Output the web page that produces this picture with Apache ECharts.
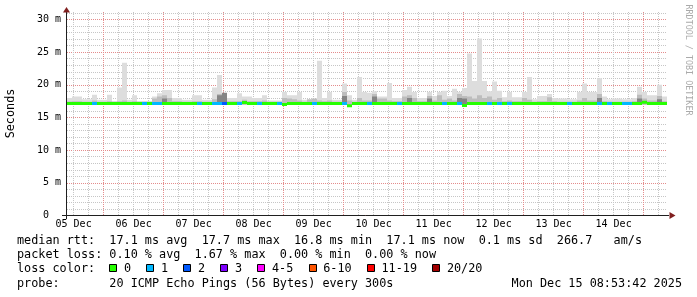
<!DOCTYPE html>
<html><head><meta charset="utf-8">
<script src="https://cdn.jsdelivr.net/npm/echarts@6/dist/echarts.min.js"></script>
<style>html,body{margin:0;padding:0;background:#fff}#c{width:697px;height:297px}</style>
</head><body><div id="c"></div>
<script>
// ---- data (hours counted from 05 Dec 00:00) ----
const startHour = 9.36;          // left edge of the plot
const spanHours = 240;           // 10 days shown
const stepHours = 2;             // width of one sample column
const smokeBase = 16.95;

const dayLabels = ['05 Dec','06 Dec','07 Dec','08 Dec','09 Dec','10 Dec','11 Dec','12 Dec','13 Dec','14 Dec'];
const dayLabelHours = [12,36,60,84,108,132,156,180,204,228];
const midnightHours = [24,48,72,96,120,144,168,192,216,240];
const sixHourTicks = [12,18,30,36,42,54,60,66,78,84,90,102,108,114,126,132,138,150,156,162,174,180,186,198,204,210,222,228,234,246];
const yMajorTicks = [0,5,10,15,20,25,30];
const yTickLabels = ['0  ','5 m','10 m','15 m','20 m','25 m','30 m'];
const yMinorTicks = [1,2,3,4,6,7,8,9,11,12,13,14,16,17,18,19,21,22,23,24,26,27,28,29,31];
const yMax = 31.15;

const smokeTop = [18.0,18.2,18.2,17.8,17.8,18.5,17.7,17.7,18.5,17.5,
 19.6,23.4,17.7,18.4,17.5,17.5,17.5,18.2,18.7,19.2,
 19.2,18.0,18.0,17.7,17.7,18.4,18.4,17.7,17.7,19.6,
 21.5,18.0,18.0,18.0,18.7,18.2,18.2,18.0,18.0,18.4,
 17.6,17.6,17.6,18.9,18.4,18.4,18.9,17.7,17.7,17.7,
 23.7,18.0,18.9,17.7,17.7,20.2,18.4,17.7,21.2,18.9,
 18.8,19.0,18.2,18.2,20.3,18.0,18.0,19.2,19.7,18.9,
 18.0,18.0,18.9,18.3,18.9,19.1,18.3,19.4,18.9,19.5,
 24.8,20.6,27.1,20.6,19.0,20.5,19.1,18.1,18.9,18.1,
 18.1,18.9,21.2,17.8,18.3,18.3,18.6,18.0,17.9,17.9,
 17.8,17.8,18.9,20.2,18.9,18.9,21.0,18.2,17.8,17.9,
 17.9,17.8,17.8,18.0,19.7,18.9,18.4,18.4,20.0,18.2];

const smokeMid = [17.45,17.5,17.5,17.4,17.4,17.6,17.4,17.4,17.5,17.4,
 17.5,17.6,17.4,17.5,17.4,17.4,17.4,17.9,18.2,18.4,
 18.0,17.5,17.5,17.4,17.4,17.5,17.5,17.4,17.4,17.8,
 18.6,18.0,17.5,17.5,17.5,17.7,17.5,17.5,17.5,17.6,
 17.4,17.4,17.4,18.0,17.9,17.8,17.6,17.4,17.8,17.9,
 17.6,17.5,17.6,17.4,17.4,18.9,17.6,17.4,18.0,17.6,
 17.6,18.6,17.9,17.9,17.6,17.5,17.5,18.2,18.4,18.0,
 17.5,17.5,18.3,17.6,18.4,17.7,17.9,17.6,18.6,18.3,
 18.2,17.9,18.4,18.0,18.2,17.7,18.0,17.5,17.6,17.5,
 17.5,18.0,17.7,17.4,17.5,17.5,18.1,17.5,17.4,17.4,
 17.4,17.4,17.6,18.0,17.6,17.6,18.6,17.5,17.4,17.4,
 17.4,17.4,17.4,17.5,18.5,17.9,17.6,17.6,18.3,17.5];

const smokeDark = [null,null,null,null,null,null,null,null,null,null,
 null,null,null,null,null,null,null,null,null,17.9,
 null,null,null,null,null,null,null,null,null,null,
 18.4,18.8,null,null,null,null,null,null,null,null,
 null,null,null,null,null,null,null,null,null,null,
 null,null,null,null,null,18.3,null,null,null,null,
 null,18.2,null,null,null,null,null,null,18.0,null,
 null,null,17.9,null,null,null,null,null,18.0,17.9,
 null,null,null,null,null,null,null,null,null,null,
 null,null,null,null,null,null,null,null,null,null,
 null,null,null,null,null,null,18.0,null,null,null,
 null,null,null,null,17.9,null,null,null,17.8,null];

const medianRtt = [17.15,17.15,17.15,17.15,17.15,17.15,17.15,17.15,17.15,17.15,
 17.15,17.15,17.15,17.15,17.15,17.15,17.15,17.15,17.15,17.15,
 17.15,17.15,17.15,17.15,17.15,17.15,17.15,17.15,17.15,17.15,
 17.15,17.15,17.15,17.15,17.15,17.3,17.15,17.15,17.15,17.15,
 17.15,17.15,17.15,17.0,17.15,17.15,17.15,17.15,17.15,17.15,
 17.15,17.15,17.15,17.15,17.15,17.15,16.8,17.15,17.15,17.15,
 17.15,17.15,17.15,17.15,17.15,17.15,17.15,17.15,17.15,17.15,
 17.15,17.15,17.15,17.15,17.15,17.15,17.15,17.15,17.15,16.85,
 17.15,17.15,17.15,17.15,17.15,17.15,17.15,17.15,17.15,17.15,
 17.15,17.15,17.15,17.15,17.15,17.15,17.15,17.15,17.15,17.15,
 17.15,17.15,17.15,17.15,17.15,17.15,17.15,17.15,17.15,17.15,
 17.15,17.15,17.15,17.15,17.15,17.35,17.15,17.15,17.15,17.15];

const lossCount = [0,0,0,0,0,1,0,0,0,0,
 0,0,0,0,0,1,0,1,1,0,
 0,0,0,0,0,0,1,0,0,1,
 1,2,0,0,1,0,0,0,1,0,
 0,0,1,0,0,0,0,0,0,1,
 0,0,0,0,0,1,0,0,0,0,
 1,0,0,0,0,0,1,0,0,0,
 0,0,0,0,0,1,0,0,1,0,
 0,0,0,0,1,0,1,0,1,0,
 0,0,0,0,0,0,0,0,0,0,
 1,0,0,0,0,0,1,0,1,0,
 0,1,1,0,0,0,0,0,0,0];

const lossLabels = ['0','1','2','3','4-5','6-10','11-19','20/20'];
const lossColors = ['#26ff00','#00b8ff','#0059ff','#7e00ff','#ff00ff','#ff5500','#ff0000','#a10000'];
const statsLine1 = 'median rtt:  17.1 ms avg  17.7 ms max  16.8 ms min  17.1 ms now  0.1 ms sd  266.7   am/s';
const statsLine2 = 'packet loss: 0.10 % avg  1.67 % max  0.00 % min  0.00 % now';
const probeLine = 'probe:       20 ICMP Echo Pings (56 Bytes) every 300s';
const stampText = 'Mon Dec 15 08:53:42 2025';

// ---- build ----
function lossBucket(n){ if(n<=3) return n; if(n<=5) return 4; if(n<=10) return 5; if(n<=19) return 6; return 7; }
const colTime = smokeTop.map((_,i)=>startHour + i*stepHours);

const MONO = 'DejaVu Sans Mono';
const chart = echarts.init(document.getElementById('c'), null, {renderer:'canvas'});

function rectItem(color){
  return function(params, api){
    const t = api.value(0), top = api.value(1), base = api.value(2);
    if (top == null || isNaN(top)) return null;
    const p1 = api.coord([t, top]);
    const p2 = api.coord([t + stepHours, base]);
    return {type:'rect', shape:{x:p1[0], y:p1[1], width:p2[0]-p1[0], height:p2[1]-p1[1]}, style:{fill:color}};
  };
}

const graphics = [];
// axis lines & arrows
graphics.push({type:'line', shape:{x1:62, y1:215.5, x2:669, y2:215.5}, style:{stroke:'#1f1f1f', lineWidth:1}, z:100});
graphics.push({type:'line', shape:{x1:66.5, y1:219, x2:66.5, y2:12}, style:{stroke:'#1f1f1f', lineWidth:1}, z:100});
graphics.push({type:'polygon', shape:{points:[[66.5,7],[63,12.5],[70,12.5]]}, style:{fill:'#801f1f'}, z:101});
graphics.push({type:'polygon', shape:{points:[[675.5,215.5],[669.5,212],[669.5,219]]}, style:{fill:'#801f1f'}, z:101});
// side texts
graphics.push({type:'text', x:10.5, y:113.5, rotation:Math.PI/2, style:{text:'Seconds', fontFamily:MONO, fontSize:11.8, fill:'#000', align:'center', verticalAlign:'middle'}});
graphics.push({type:'text', x:688, y:60, rotation:-Math.PI/2, style:{text:'RRDTOOL / TOBI OETIKER', fontFamily:MONO, fontSize:8.4, fill:'#aaaaaa', align:'center', verticalAlign:'middle'}});
// legend lines
const lf = {fontFamily:MONO, fontSize:11.8, fill:'#000', verticalAlign:'middle', align:'left'};
graphics.push({type:'text', x:17, y:241, style:Object.assign({text:statsLine1}, lf)});
graphics.push({type:'text', x:17, y:255, style:Object.assign({text:statsLine2}, lf)});
graphics.push({type:'text', x:17, y:268.5, style:Object.assign({text:'loss color:'}, lf)});
graphics.push({type:'text', x:17, y:284, style:Object.assign({text:probeLine}, lf)});
graphics.push({type:'text', x:682, y:284, style:Object.assign({}, lf, {text:stampText, align:'right'})});
let bx = 109.3;
lossLabels.forEach((lab, k) => {
  graphics.push({type:'rect', shape:{x:Math.round(bx)+0.5, y:264.5, width:7, height:7}, style:{fill:lossColors[k], stroke:'#000', lineWidth:1}});
  graphics.push({type:'text', x:bx+14.7, y:268.5, style:Object.assign({text:lab}, lf)});
  bx += 14.7 + lab.length*7.1 + 15.2;
});

const majorGrid = {color:'#e48c8c', width:1, type:[1,1]};
const minorGrid = {color:'#c6c6c6', width:1, type:[1,1]};
const option = {
  animation:false,
  backgroundColor:'#fff',
  grid:{left:67, right:30, top:12, bottom:81.5, outerBoundsMode:'none'},
  xAxis:[
    {type:'value', min:startHour, max:startHour+spanHours, axisLine:{show:false},
     axisTick:{show:false, customValues:midnightHours},
     axisLabel:{customValues:dayLabelHours, margin:4, fontFamily:MONO, fontSize:10, color:'#000',
       formatter:(v)=>dayLabels[dayLabelHours.indexOf(Math.round(v))] || ''},
     splitLine:{show:true, lineStyle:majorGrid}},
    {type:'value', min:startHour, max:startHour+spanHours, axisLine:{show:false},
     axisTick:{show:false, customValues:sixHourTicks}, axisLabel:{show:false},
     splitLine:{show:true, lineStyle:minorGrid}}
  ],
  yAxis:[
    {type:'value', min:0, max:yMax, axisLine:{show:false},
     axisTick:{show:false, customValues:yMajorTicks},
     axisLabel:{customValues:yMajorTicks, margin:6, fontFamily:MONO, fontSize:10, color:'#000',
       formatter:(v)=>yTickLabels[yMajorTicks.indexOf(Math.round(v))] || ''},
     splitLine:{show:true, lineStyle:majorGrid}},
    {type:'value', min:0, max:yMax, axisLine:{show:false},
     axisTick:{show:false, customValues:yMinorTicks}, axisLabel:{show:false},
     splitLine:{show:true, lineStyle:minorGrid}}
  ],
  series:[
    {type:'custom', name:'smoke', clip:true, xAxisIndex:0, yAxisIndex:0, z:2,
     renderItem:rectItem('#dddddd'), encode:{x:0, y:1},
     data: smokeTop.map((v,i)=>[colTime[i], v, smokeBase])},
    {type:'custom', name:'smoke mid', clip:true, xAxisIndex:0, yAxisIndex:0, z:3,
     renderItem:rectItem('#bdbdbd'), encode:{x:0, y:1},
     data: smokeMid.map((v,i)=>[colTime[i], v, smokeBase])},
    {type:'custom', name:'smoke dark', clip:true, xAxisIndex:0, yAxisIndex:0, z:4,
     renderItem:rectItem('#858585'), encode:{x:0, y:1},
     data: smokeDark.map((v,i)=>[colTime[i], v == null ? NaN : v, smokeBase])},
    {type:'custom', name:'median rtt', clip:true, xAxisIndex:0, yAxisIndex:0, z:5,
     encode:{x:0, y:1},
     renderItem:function(params, api){
       const t = api.value(0), m = api.value(1), l = api.value(2);
       const p1 = api.coord([t, m]);
       const p2 = api.coord([t + stepHours, m]);
       return {type:'rect', shape:{x:p1[0], y:p1[1]-1.5, width:p2[0]-p1[0], height:3},
               style:{fill:lossColors[lossBucket(l)]}};
     },
     data: medianRtt.map((v,i)=>[colTime[i], v, lossCount[i]])}
  ],
  graphic: graphics
};
chart.setOption(option);
</script></body></html>
